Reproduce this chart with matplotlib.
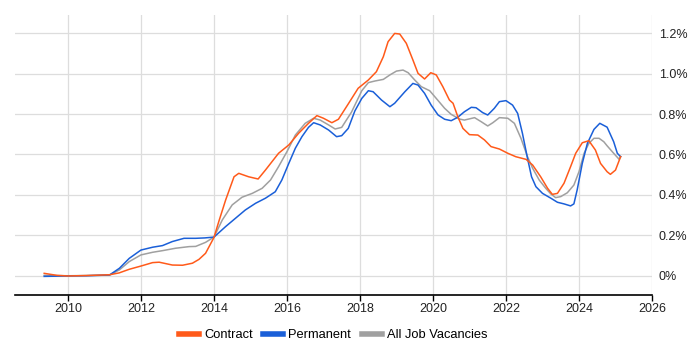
import matplotlib
matplotlib.use("Agg")
import matplotlib.pyplot as plt
from matplotlib.ticker import FuncFormatter, MultipleLocator
from matplotlib.lines import Line2D

plt.rcParams['font.family'] = ['Liberation Sans', 'DejaVu Sans']

contract_years = [2009.35, 2009.7, 2010.0, 2010.5, 2011.14, 2011.4, 2011.68, 2012.0, 2012.32, 2012.5,
                  2012.86, 2013.14, 2013.41, 2013.59, 2013.77, 2014.0, 2014.14, 2014.32, 2014.55, 2014.68,
                  2014.95, 2015.21, 2015.41, 2015.77, 2016.05, 2016.32, 2016.59, 2016.82, 2017.0, 2017.23,
                  2017.41, 2017.68, 2017.95, 2018.23, 2018.45, 2018.64, 2018.77, 2018.95, 2019.09, 2019.27,
                  2019.45, 2019.59, 2019.77, 2019.94, 2020.09, 2020.27, 2020.45, 2020.55, 2020.68, 2020.82,
                  2021.0, 2021.23, 2021.41, 2021.59, 2021.82, 2022.05, 2022.27, 2022.55, 2022.73, 2022.95,
                  2023.14, 2023.27, 2023.41, 2023.59, 2023.77, 2023.91, 2024.09, 2024.27, 2024.45, 2024.59,
                  2024.77, 2024.86, 2025.0, 2025.14]
contract_values = [0.013, 0.003, 0.0, 0.002, 0.006, 0.015, 0.033, 0.049, 0.066, 0.068,
                   0.054, 0.053, 0.063, 0.082, 0.112, 0.19, 0.273, 0.375, 0.49, 0.507,
                   0.49, 0.479, 0.523, 0.606, 0.647, 0.705, 0.754, 0.792, 0.779, 0.757,
                   0.774, 0.85, 0.927, 0.968, 1.009, 1.083, 1.157, 1.198, 1.195, 1.149,
                   1.067, 1.001, 0.973, 1.004, 0.993, 0.935, 0.869, 0.853, 0.787, 0.729,
                   0.698, 0.696, 0.672, 0.639, 0.627, 0.606, 0.589, 0.576, 0.548, 0.49,
                   0.433, 0.403, 0.408, 0.458, 0.54, 0.606, 0.658, 0.668, 0.622, 0.556,
                   0.515, 0.502, 0.523, 0.589]

permanent_years = [2009.35, 2010.0, 2010.5, 2011.14, 2011.41, 2011.68, 2012.0, 2012.32, 2012.59, 2012.86,
                   2013.18, 2013.5, 2013.75, 2014.0, 2014.05, 2014.32, 2014.59, 2014.86, 2015.14, 2015.41,
                   2015.68, 2015.86, 2016.05, 2016.23, 2016.41, 2016.59, 2016.73, 2016.91, 2017.14, 2017.36,
                   2017.5, 2017.68, 2017.86, 2018.05, 2018.23, 2018.36, 2018.59, 2018.82, 2018.95, 2019.23,
                   2019.45, 2019.59, 2019.77, 2019.95, 2020.14, 2020.32, 2020.5, 2020.68, 2020.86, 2021.05,
                   2021.18, 2021.36, 2021.5, 2021.68, 2021.82, 2022.0, 2022.18, 2022.32, 2022.45, 2022.59,
                   2022.7, 2022.82, 2023.0, 2023.23, 2023.41, 2023.59, 2023.77, 2023.86, 2023.95, 2024.09,
                   2024.23, 2024.41, 2024.57, 2024.77, 2024.95, 2025.05, 2025.14]
permanent_values = [-0.002, 0.0, 0.001, 0.005, 0.038, 0.087, 0.128, 0.142, 0.15, 0.17,
                    0.186, 0.186, 0.188, 0.192, 0.2, 0.244, 0.285, 0.326, 0.359, 0.384,
                    0.416, 0.474, 0.556, 0.631, 0.688, 0.734, 0.757, 0.746, 0.721, 0.688,
                    0.693, 0.729, 0.815, 0.877, 0.915, 0.91, 0.869, 0.836, 0.853, 0.91,
                    0.951, 0.943, 0.902, 0.844, 0.795, 0.774, 0.767, 0.784, 0.811, 0.833,
                    0.831, 0.807, 0.795, 0.828, 0.861, 0.866, 0.844, 0.803, 0.705, 0.581,
                    0.49, 0.441, 0.408, 0.384, 0.364, 0.356, 0.346, 0.356, 0.425, 0.556,
                    0.655, 0.724, 0.754, 0.735, 0.663, 0.606, 0.589]

all_years = [2009.35, 2010.0, 2011.14, 2011.41, 2011.68, 2012.0, 2012.32, 2012.59, 2012.95, 2013.32,
             2013.5, 2013.77, 2014.0, 2014.23, 2014.5, 2014.77, 2015.05, 2015.32, 2015.55, 2015.77,
             2016.0, 2016.23, 2016.5, 2016.73, 2016.91, 2017.14, 2017.32, 2017.5, 2017.77, 2018.05,
             2018.23, 2018.41, 2018.64, 2018.82, 2019.0, 2019.18, 2019.32, 2019.5, 2019.68, 2019.91,
             2020.09, 2020.32, 2020.5, 2020.73, 2020.86, 2021.14, 2021.32, 2021.5, 2021.64, 2021.82,
             2022.05, 2022.23, 2022.41, 2022.59, 2022.73, 2022.91, 2023.09, 2023.23, 2023.36, 2023.5,
             2023.68, 2023.86, 2024.0, 2024.14, 2024.27, 2024.41, 2024.55, 2024.68, 2024.77, 2024.95,
             2025.1, 2025.14]
all_values = [0.003, 0.001, 0.004, 0.03, 0.071, 0.104, 0.117, 0.125, 0.137, 0.145,
              0.146, 0.166, 0.192, 0.277, 0.351, 0.389, 0.408, 0.433, 0.474, 0.54,
              0.614, 0.696, 0.754, 0.779, 0.77, 0.746, 0.726, 0.734, 0.81, 0.915,
              0.955, 0.963, 0.971, 0.993, 1.012, 1.017, 1.004, 0.968, 0.935, 0.915,
              0.877, 0.828, 0.798, 0.775, 0.77, 0.782, 0.762, 0.741, 0.757, 0.782,
              0.779, 0.754, 0.68, 0.589, 0.532, 0.474, 0.433, 0.405, 0.387, 0.392,
              0.411, 0.449, 0.515, 0.606, 0.655, 0.68, 0.68, 0.663, 0.643, 0.606,
              0.576, 0.59]

series_names = ["Contract", "Permanent", "All Job Vacancies"]
series_colors = ["#FF5A1A", "#1A5FD8", "#A0A0A0"]

fig = plt.figure(figsize=(7, 3.5), dpi=100)
ax = fig.add_axes([15/700, 55/350, 637/700, 280/350])

data = [(contract_years, contract_values), (permanent_years, permanent_values), (all_years, all_values)]
zorders = [5, 4, 3]
for i in [2, 1, 0]:
    yrs, vals = data[i]
    ax.plot(yrs, vals, color=series_colors[i], lw=1.1, label=series_names[i], zorder=zorders[i])

ax.set_xlim(2008.55, 2026.0)
ax.set_ylim(-0.094, 1.289)
ax.xaxis.set_major_locator(MultipleLocator(2))
ax.yaxis.set_major_locator(MultipleLocator(0.2))
ax.yaxis.set_major_formatter(FuncFormatter(lambda v, p: "0%" if abs(v) < 1e-9 else f"{v:.1f}%"))
ax.yaxis.tick_right()
ax.tick_params(axis='y', length=0, pad=5, labelsize=9, labelcolor="#222222")
ax.tick_params(axis='x', length=4, width=1, color="#000000", pad=1.5, labelsize=9, labelcolor="#222222")
ax.grid(True, color="#DDDDDD", lw=0.9)
ax.set_axisbelow(True)
for s in ["top", "right", "left"]:
    ax.spines[s].set_visible(False)
ax.spines["bottom"].set_color("#000000")
ax.spines["bottom"].set_linewidth(1.2)

handles = [Line2D([0], [0], color=series_colors[i], lw=4) for i in range(3)]
fig.legend(handles, series_names, loc="center", bbox_to_anchor=(333/700, 15/350), ncol=3, frameon=False,
           fontsize=9.3, handlelength=1.55, handletextpad=0.39, columnspacing=0.82,
           borderpad=0, borderaxespad=0)

fig.savefig("out.png", dpi=100, facecolor="white")
